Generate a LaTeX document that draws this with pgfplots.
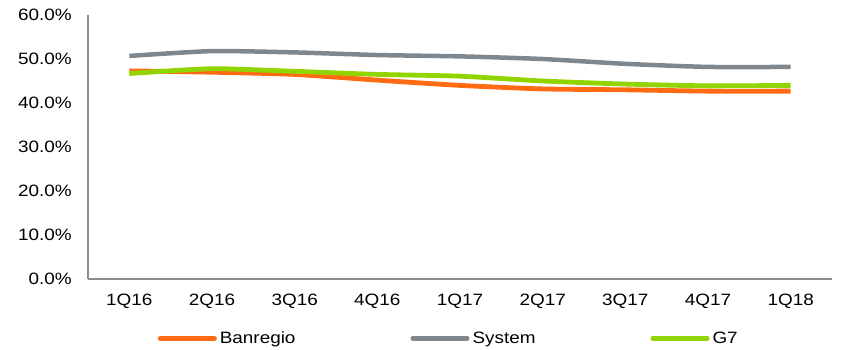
\documentclass[border=0pt]{standalone}
\usepackage{pgfplots}
\pgfplotsset{compat=1.18}
\usepackage{fontspec}
\setmainfont{Liberation Sans}[FakeStretch=1.15]
\definecolor{cOrange}{HTML}{FF6A13}
\definecolor{cGray}{HTML}{7E878E}
\definecolor{cGreen}{HTML}{92D400}
\definecolor{cAxis}{HTML}{8C8C8C}
\begin{document}
\begin{tikzpicture}
\begin{axis}[
  at={(0,0)}, anchor=south west,
  scale only axis, width=744bp, height=264bp,
  xmin=-0.5, xmax=8.5, ymin=0, ymax=60,
  axis x line*=bottom, axis y line*=left,
  axis line style={cAxis, line width=1.3bp, -},
  major tick length=0pt,
  xtick={0,...,8},
  xticklabels={1Q16,2Q16,3Q16,4Q16,1Q17,2Q17,3Q17,4Q17,1Q18},
  ytick={0,10,20,30,40,50,60},
  yticklabels={0.0\%,10.0\%,20.0\%,30.0\%,40.0\%,50.0\%,60.0\%},
  tick label style={font=\fontsize{16.5}{19}\selectfont, text=black},
  yticklabel style={inner sep=0pt, anchor=east, xshift=-16bp},
  xticklabel style={inner sep=0pt, anchor=north, yshift=-15bp},
  legend columns=3,
  legend image code/.code={\draw[#1, line width=5bp, line cap=round] (0bp,0bp) -- (54bp,0bp);},
  legend style={draw=none, fill=none, inner sep=0pt,
    at={(axis description cs:0.4836,-0.225)}, anchor=center,
    font=\fontsize{16.5}{19}\selectfont,
    nodes={inner sep=0pt},
    /tikz/every odd column/.append style={column sep=3bp},
    /tikz/every even column/.append style={column sep=115bp}},
]
\addplot[cOrange, line width=4.8bp, smooth, tension=0.35] coordinates {
 (0,47.3) (1,47.0) (2,46.5) (3,45.2) (4,44.0) (5,43.2) (6,43.0) (7,42.7) (8,42.7)};
\addlegendentry{Banregio}
\addplot[cGray, line width=4.5bp, smooth, tension=0.35] coordinates {
 (0,50.7) (1,51.8) (2,51.5) (3,50.9) (4,50.6) (5,50.0) (6,48.9) (7,48.2) (8,48.2)};
\addlegendentry{System}
\addplot[cGreen, line width=4.8bp, smooth, tension=0.35] coordinates {
 (0,46.7) (1,47.8) (2,47.2) (3,46.5) (4,46.1) (5,45.0) (6,44.3) (7,43.9) (8,44.0)};
\addlegendentry{G7}
\end{axis}
\pgfresetboundingbox
\useasboundingbox (-88bp,-71bp) rectangle (768bp,279bp);
\end{tikzpicture}
\end{document}
